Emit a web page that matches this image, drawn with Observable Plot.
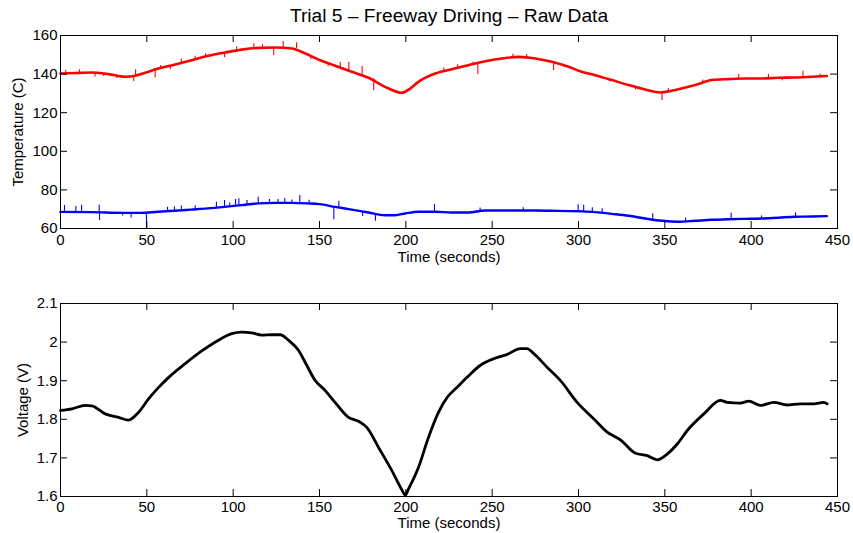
<!DOCTYPE html>
<html>
<head>
<meta charset="utf-8">
<script src="https://cdn.jsdelivr.net/npm/d3@7"></script>
<script src="https://cdn.jsdelivr.net/npm/@observablehq/plot@0.6"></script>
<style>
  html, body { margin: 0; padding: 0; background: #fff; }
  #wrap { position: relative; width: 853px; height: 533px; overflow: hidden; font-family: "Liberation Sans", Arial, sans-serif; }
  #title { position: absolute; left: 0; top: 5px; width: 898px; text-align: center; font-size: 19.2px; line-height: 22px; color: #000; }
  #wrap svg { display: block; }
</style>
</head>
<body>
<div id="wrap">
  <div id="charts"></div>
  <div id="title">Trial 5 – Freeway Driving – Raw Data</div>
</div>
<script>
// ---- Data ----
const titleText = "Trial 5 – Freeway Driving – Raw Data";
const xLabel = "Time (seconds)";
const tempLabel = "Temperature (C)";
const voltLabel = "Voltage (V)";
const xTicks = [0, 50, 100, 150, 200, 250, 300, 350, 400, 450];
const tempTicks = [60, 80, 100, 120, 140, 160];
const voltTicks = [1.6, 1.7, 1.8, 1.9, 2, 2.1];

// Red temperature series (trend)
const redT = [0, 9, 18, 27.8, 37.5, 43.3, 49, 56.7, 66.4, 76, 85.7, 95.4, 105, 114.7, 124.3, 134, 141.7, 150.4, 159.1, 168.7, 178.4, 188, 197.7, 202.5, 207.3, 217, 226.6, 236.3, 246, 255.6, 265.2, 275, 284.5, 294.2, 301, 309.7, 319.3, 329, 338.6, 347.3, 357.9, 367.6, 377.2, 386.9, 396.5, 406.2, 415.8, 425.5, 435.1, 443.8];
const redV = [140.3, 140.6, 140.8, 140, 138.6, 139.1, 140.7, 142.9, 145, 147.2, 149.5, 151.2, 152.7, 153.6, 153.8, 153.3, 150.7, 147.2, 144.3, 141.2, 138.1, 133.4, 130.3, 132.5, 136, 140.3, 142.5, 144.6, 146.7, 148.1, 148.9, 148.1, 146.4, 143.8, 141.5, 139.4, 136.9, 134.3, 132, 130.5, 132.2, 134.3, 136.9, 137.4, 137.7, 137.7, 138.1, 138.2, 138.6, 139];
// Red spikes: time, base, peak
const redSpikeT = [3, 11, 20, 25, 32.6, 42.4, 43.5, 54.8, 58, 63.6, 70, 78, 84, 95, 102, 112, 117, 123.5, 129, 136.7, 145, 155, 162, 167, 174.7, 181.4, 222, 230, 239, 241.7, 262, 270, 285.6, 318, 333, 348.4, 352, 372, 392.8, 410, 418, 430, 440];
const redSpikeBase = [140.4, 140.7, 140.8, 140.3, 139, 139, 139, 142, 142.6, 144, 146, 147.7, 148.9, 151.2, 152.4, 153.5, 153.7, 153.8, 153.8, 153.3, 149.5, 145.6, 142.8, 141.5, 139.5, 137.5, 141.5, 143.2, 144.3, 145, 148.7, 148.7, 146.3, 136, 133.4, 130.5, 131, 135.5, 137.6, 137.8, 138.1, 138.3, 138.8];
const redSpikePeak = [142, 142.2, 138.5, 138.8, 137.7, 136.2, 142.2, 138.1, 144.5, 142.2, 147.8, 149.2, 150.5, 148.5, 154.2, 155.7, 155.3, 149.6, 156.9, 156.2, 147.5, 143.8, 146, 146.2, 144, 131.5, 143.2, 144.9, 146.2, 139.8, 150.3, 150.2, 141.9, 137.6, 131.8, 126.3, 132.6, 137, 139.8, 139.8, 136.6, 141.5, 140.1];

// Blue temperature series (trend)
const blueT = [0, 17.7, 37, 46.7, 56.4, 66, 75.7, 85.3, 95, 104.7, 114.3, 124, 133.6, 143.3, 150, 159, 168.7, 178.4, 188, 193.8, 199.6, 207.3, 217, 226.6, 236.3, 246, 255.6, 265.2, 275, 284.5, 301, 309.7, 319.3, 329, 338.6, 348.3, 357.9, 367.6, 377.2, 386.9, 396.5, 406.2, 415.8, 425.5, 435.1, 443.8];
const blueV = [68.6, 68.5, 68.1, 68.1, 68.7, 69.2, 69.8, 70.4, 71.2, 72.1, 73, 73.3, 73.3, 73, 72.6, 71.2, 69.8, 68.3, 66.9, 66.9, 67.8, 68.7, 68.7, 68.3, 68.3, 69.3, 69.3, 69.3, 69.3, 69.2, 68.9, 68.5, 67.6, 66.6, 65.2, 64, 63.5, 64, 64.5, 64.8, 65, 65.2, 65.6, 66.1, 66.2, 66.4];
const blueSpikeT = [2.3, 8.9, 12.2, 22.4, 22.6, 36, 40.9, 49.8, 62, 66, 70, 78, 90.3, 95, 98, 101.4, 103.3, 108, 114.5, 121, 126, 129.9, 134, 138.6, 144, 158.3, 161.2, 175, 182.4, 216.6, 243, 268, 299.8, 303, 308, 313.7, 343, 362, 388.4, 406, 425.7];
const blueSpikeBase = [68.6, 68.6, 68.6, 68.5, 68.5, 68.2, 68.1, 68.3, 69, 69.2, 69.5, 69.9, 70.8, 71.2, 71.5, 71.8, 72, 72.4, 73, 73.2, 73.3, 73.3, 73.3, 73.2, 73, 71.3, 71, 68.6, 67.7, 68.7, 69, 69.3, 68.9, 68.8, 68.6, 68, 64.6, 63.7, 64.8, 65.1, 66.1];
const blueSpikePeak = [71.9, 71.4, 72, 72, 64.1, 66.5, 65.5, 60, 71, 71.2, 71.6, 71.8, 73.6, 74.5, 73.2, 75, 75.4, 74.5, 76.2, 75, 75, 75.6, 74.8, 77.1, 74.6, 64.5, 74.1, 66.2, 63.8, 72.4, 70.6, 70.8, 72.3, 72, 70.8, 70.2, 67.6, 65.5, 67.9, 66.5, 68.1];

// Voltage series
const voltT = [0, 6.6, 14.3, 18.1, 25.9, 33.6, 39.4, 45.2, 51, 56.7, 62.5, 72.2, 81.8, 91.5, 99.2, 105, 110.8, 116.6, 122.4, 127.2, 132, 137.8, 142.6, 147.4, 153.2, 159, 166.8, 172.6, 177.4, 184.2, 191.9, 198.6, 199.6, 201.5, 207.3, 213.1, 218.9, 224, 229.7, 235.5, 243.2, 250.9, 258.6, 266.4, 270.2, 274.1, 281.8, 289.6, 299.2, 308.9, 316.6, 324.3, 333, 339.8, 345.6, 351.4, 357.2, 363, 372.6, 382.2, 386.1, 393.8, 398.6, 405.4, 413.1, 420.8, 428.5, 436.2, 442, 444];
const voltV = [1.823, 1.827, 1.836, 1.835, 1.814, 1.805, 1.798, 1.818, 1.853, 1.882, 1.908, 1.944, 1.977, 2.005, 2.022, 2.026, 2.024, 2.018, 2.019, 2.019, 2.005, 1.979, 1.94, 1.901, 1.875, 1.844, 1.805, 1.795, 1.779, 1.727, 1.667, 1.61, 1.603, 1.619, 1.675, 1.753, 1.818, 1.857, 1.883, 1.909, 1.94, 1.957, 1.968, 1.983, 1.983, 1.97, 1.935, 1.9, 1.844, 1.801, 1.767, 1.747, 1.712, 1.706, 1.695, 1.71, 1.736, 1.771, 1.814, 1.849, 1.844, 1.842, 1.847, 1.836, 1.844, 1.837, 1.84, 1.84, 1.844, 1.84];

// ---- Build tables ----
const zip2 = (a, b) => a.map((t, i) => ({t, v: b[i]}));
const zip3 = (a, b, c) => a.map((t, i) => ({t, base: b[i], peak: c[i]}));
const redData = zip2(redT, redV);
const blueData = zip2(blueT, blueV);
const voltData = zip2(voltT, voltV);
const redSpikes = zip3(redSpikeT, redSpikeBase, redSpikePeak);
const blueSpikes = zip3(blueSpikeT, blueSpikeBase, blueSpikePeak);

const W = 853;
const ML = 60, MR = 16;
const PW = W - ML - MR;
const font = "'Liberation Sans', Arial, Helvetica, sans-serif";
const TICK = 7;

function boxMarks(yTicks, ph, yLabel, labelOffset, xLabelDy, tickPadX) {
  return [
    Plot.ruleX(xTicks, {x: d => d, insetTop: ph - TICK, stroke: "black", strokeWidth: 1}),
    Plot.ruleX(xTicks, {x: d => d, insetBottom: ph - TICK, stroke: "black", strokeWidth: 1}),
    Plot.ruleY(yTicks, {y: d => d, insetRight: PW - TICK, stroke: "black", strokeWidth: 1}),
    Plot.ruleY(yTicks, {y: d => d, insetLeft: PW - TICK, stroke: "black", strokeWidth: 1}),
    Plot.frame({stroke: "black", strokeWidth: 1}),
    Plot.axisX(xTicks, {tickSize: 0, tickPadding: tickPadX, label: null, fill: "black", fontSize: 15}),
    Plot.axisY(yTicks, {tickSize: 0, tickPadding: 3, tickFormat: d => `${d}`, label: yLabel, labelAnchor: "center", labelOffset, labelArrow: "none", fill: "black", fontSize: 15}),
    Plot.text([xLabel], {text: d => d, frameAnchor: "bottom", lineAnchor: "top", dy: xLabelDy, fontSize: 15, fill: "black"})
  ];
}

const topChart = Plot.plot({
  width: W, height: 270,
  marginLeft: ML, marginRight: MR, marginTop: 35, marginBottom: 42,
  style: {fontFamily: font, fontSize: "15px", color: "black", background: "white"},
  x: {domain: [0, 450]},
  y: {domain: [60, 160]},
  marks: [
    Plot.ruleX(redSpikes, {x: "t", y1: "base", y2: "peak", stroke: "#ff0000", strokeWidth: 1.1}),
    Plot.line(redData, {x: "t", y: "v", stroke: "#ff0000", strokeWidth: 2.6, curve: "monotone-x"}),
    Plot.ruleX(blueSpikes, {x: "t", y1: "base", y2: "peak", stroke: "#0000ff", strokeWidth: 1.1}),
    Plot.line(blueData, {x: "t", y: "v", stroke: "#0000ff", strokeWidth: 2.4, curve: "monotone-x"}),
    ...boxMarks(tempTicks, 193, tempLabel, 48, 23, 5.5)
  ]
});

const bottomChart = Plot.plot({
  width: W, height: 263,
  marginLeft: ML, marginRight: MR, marginTop: 33, marginBottom: 37,
  style: {fontFamily: font, fontSize: "15px", color: "black", background: "white"},
  x: {domain: [0, 450]},
  y: {domain: [1.6, 2.1]},
  marks: [
    Plot.line(voltData, {x: "t", y: "v", stroke: "black", strokeWidth: 2.8, strokeLinejoin: "round", curve: "monotone-x"}),
    ...boxMarks(voltTicks, 193, voltLabel, 43, 20.5, 5)
  ]
});

document.getElementById("charts").append(topChart, bottomChart);
document.getElementById("title").textContent = titleText;
</script>
</body>
</html>
